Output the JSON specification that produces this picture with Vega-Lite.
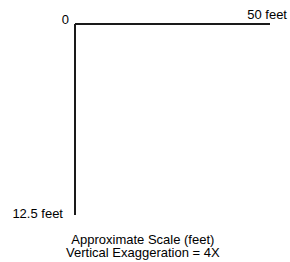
{
  "$schema": "https://vega.github.io/schema/vega-lite/v6.json",
  "width": 290,
  "height": 262,
  "padding": 0,
  "autosize": {"type": "fit", "contains": "padding"},
  "background": "white",
  "config": {"view": {"stroke": null}, "text": {"font": "Liberation Sans", "fontSize": 13, "color": "#000000"}},
  "datasets": {
    "bars": [
      {"axis": "horizontal", "x": 0, "y": 0, "x2": 50, "y2": 0},
      {"axis": "vertical", "x": 0, "y": 0, "x2": 0, "y2": 12.5}
    ],
    "labels": [
      {"label": "0", "x": 0, "y": 0, "pos": "origin"},
      {"label": "50 feet", "x": 50, "y": 0, "pos": "end"},
      {"label": "12.5 feet", "x": 0, "y": 12.5, "pos": "depth"}
    ],
    "captions": [
      {"label": "Approximate Scale (feet)", "x": 17.4, "y": 14.4},
      {"label": "Vertical Exaggeration = 4X", "x": 17.4, "y": 15.25}
    ]
  },
  "layer": [
    {
      "data": {"name": "bars"},
      "mark": {"type": "rule", "strokeWidth": 2, "color": "#1a1a1a"},
      "encoding": {
        "x": {"field": "x", "type": "quantitative", "scale": {"domain": [-19.23, 55.13], "nice": false, "zero": false}, "axis": null},
        "y": {"field": "y", "type": "quantitative", "scale": {"domain": [-1.571, 15.576], "reverse": true, "nice": false, "zero": false}, "axis": null},
        "x2": {"field": "x2"},
        "y2": {"field": "y2"}
      }
    },
    {
      "data": {"name": "labels"},
      "transform": [{"filter": "datum.pos == 'origin'"}],
      "mark": {"type": "text", "align": "right", "baseline": "alphabetic", "dx": -6, "dy": 0},
      "encoding": {
        "x": {"field": "x", "type": "quantitative"},
        "y": {"field": "y", "type": "quantitative"},
        "text": {"field": "label"}
      }
    },
    {
      "data": {"name": "labels"},
      "transform": [{"filter": "datum.pos == 'end'"}],
      "mark": {"type": "text", "align": "right", "baseline": "alphabetic", "dx": 17, "dy": -5},
      "encoding": {
        "x": {"field": "x", "type": "quantitative"},
        "y": {"field": "y", "type": "quantitative"},
        "text": {"field": "label"}
      }
    },
    {
      "data": {"name": "labels"},
      "transform": [{"filter": "datum.pos == 'depth'"}],
      "mark": {"type": "text", "align": "right", "baseline": "alphabetic", "dx": -12, "dy": 3},
      "encoding": {
        "x": {"field": "x", "type": "quantitative"},
        "y": {"field": "y", "type": "quantitative"},
        "text": {"field": "label"}
      }
    },
    {
      "data": {"name": "captions"},
      "mark": {"type": "text", "align": "center", "baseline": "alphabetic"},
      "encoding": {
        "x": {"field": "x", "type": "quantitative"},
        "y": {"field": "y", "type": "quantitative"},
        "text": {"field": "label"}
      }
    }
  ]
}
